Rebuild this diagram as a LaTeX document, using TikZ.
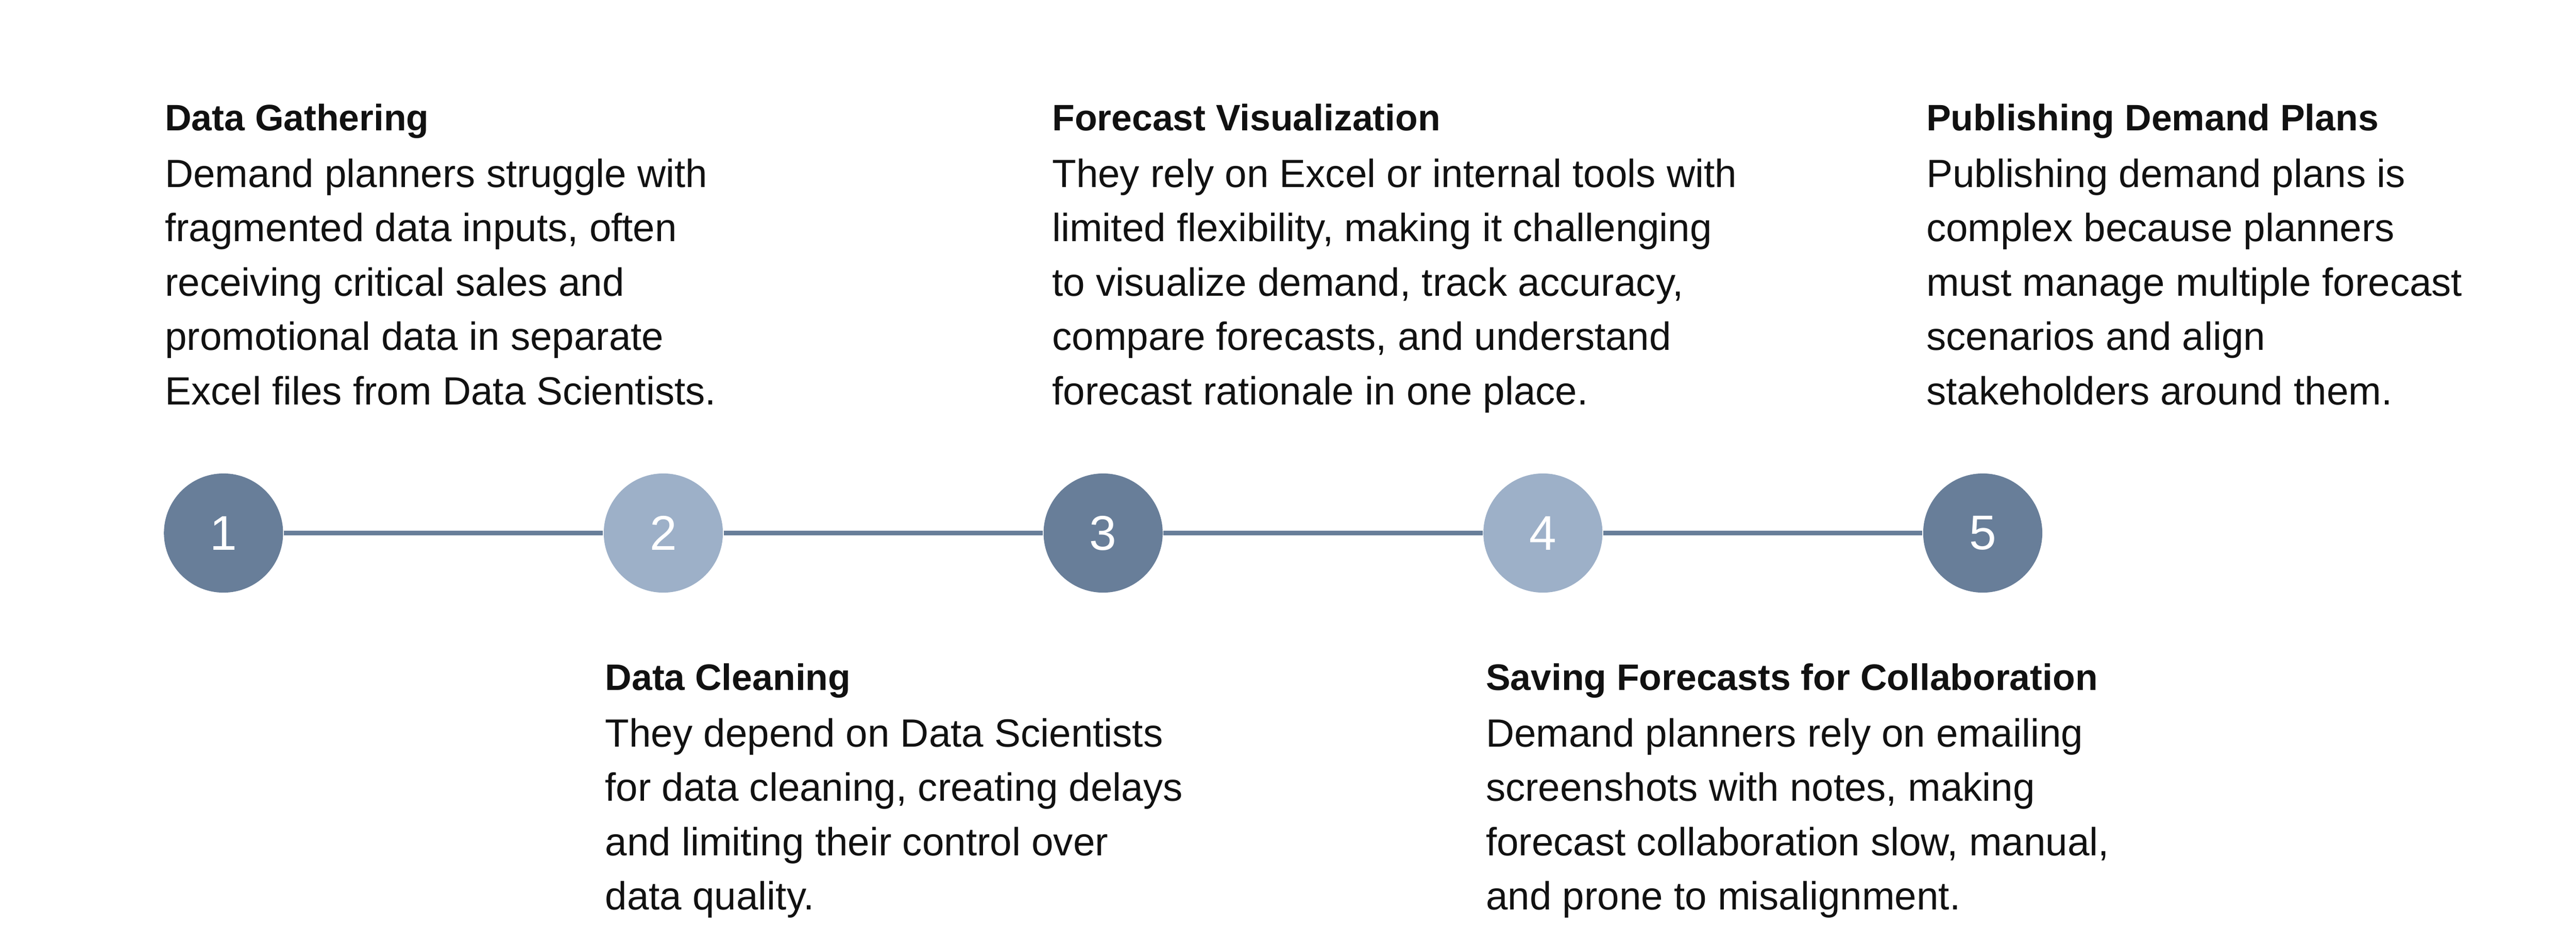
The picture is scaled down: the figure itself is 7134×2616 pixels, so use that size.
\documentclass[tikz,border=0pt]{standalone}
\usepackage{fontspec}
\setmainfont{Liberation Sans}
\definecolor{darkc}{HTML}{687E99}
\definecolor{lightc}{HTML}{9DB0C8}
\definecolor{txt}{HTML}{111111}
\newcommand{\blk}[2]{\parbox[t]{2400pt}{{\fontsize{10.2pt}{15pt}\selectfont\bfseries #1}\\[0.6pt]\fontsize{10.9pt}{15.05pt}\selectfont #2}}
\begin{document}
\begin{tikzpicture}[x=0.1pt,y=-0.1pt,
  stepdot/.style={circle,minimum size=33pt,inner sep=0pt,text=white,font=\fontsize{13.5pt}{13.5pt}\selectfont},
  dk/.style={stepdot,fill=darkc},
  lt/.style={stepdot,fill=lightc},
  conn/.style={draw=darkc,line width=1.2pt},
  desc/.style={anchor=base west,inner sep=0pt,align=left,text=txt}]
\useasboundingbox (0,0) rectangle (7134,2616);
\node[dk] (c1) at (619,1476) {1};
\node[lt] (c2) at (1837,1476) {2};
\node[dk] (c3) at (3055,1476) {3};
\node[lt] (c4) at (4273,1476) {4};
\node[dk] (c5) at (5491,1476) {5};
\draw[conn] (c1) -- (c2);
\draw[conn] (c2) -- (c3);
\draw[conn] (c3) -- (c4);
\draw[conn] (c4) -- (c5);
\node[desc] (t1) at (455,362) {\blk{Data Gathering}{Demand planners struggle with\\fragmented data inputs, often\\receiving critical sales and\\promotional data in separate\\Excel files from Data Scientists.}};
\node[desc] (t3) at (2912,362) {\blk{Forecast Visualization}{They rely on Excel or internal tools with\\limited flexibility, making it challenging\\to visualize demand, track accuracy,\\compare forecasts, and understand\\forecast rationale in one place.}};
\node[desc] (t5) at (5333,362) {\blk{Publishing Demand Plans}{Publishing demand plans is\\complex because planners\\must manage multiple forecast\\scenarios and align\\stakeholders around them.}};
\node[desc] (t2) at (1674,1911) {\blk{Data Cleaning}{They depend on Data Scientists\\for data cleaning, creating delays\\and limiting their control over\\data quality.}};
\node[desc] (t4) at (4113,1911) {\blk{Saving Forecasts for Collaboration}{Demand planners rely on emailing\\screenshots with notes, making\\forecast collaboration slow, manual,\\and prone to misalignment.}};
\end{tikzpicture}
\end{document}
